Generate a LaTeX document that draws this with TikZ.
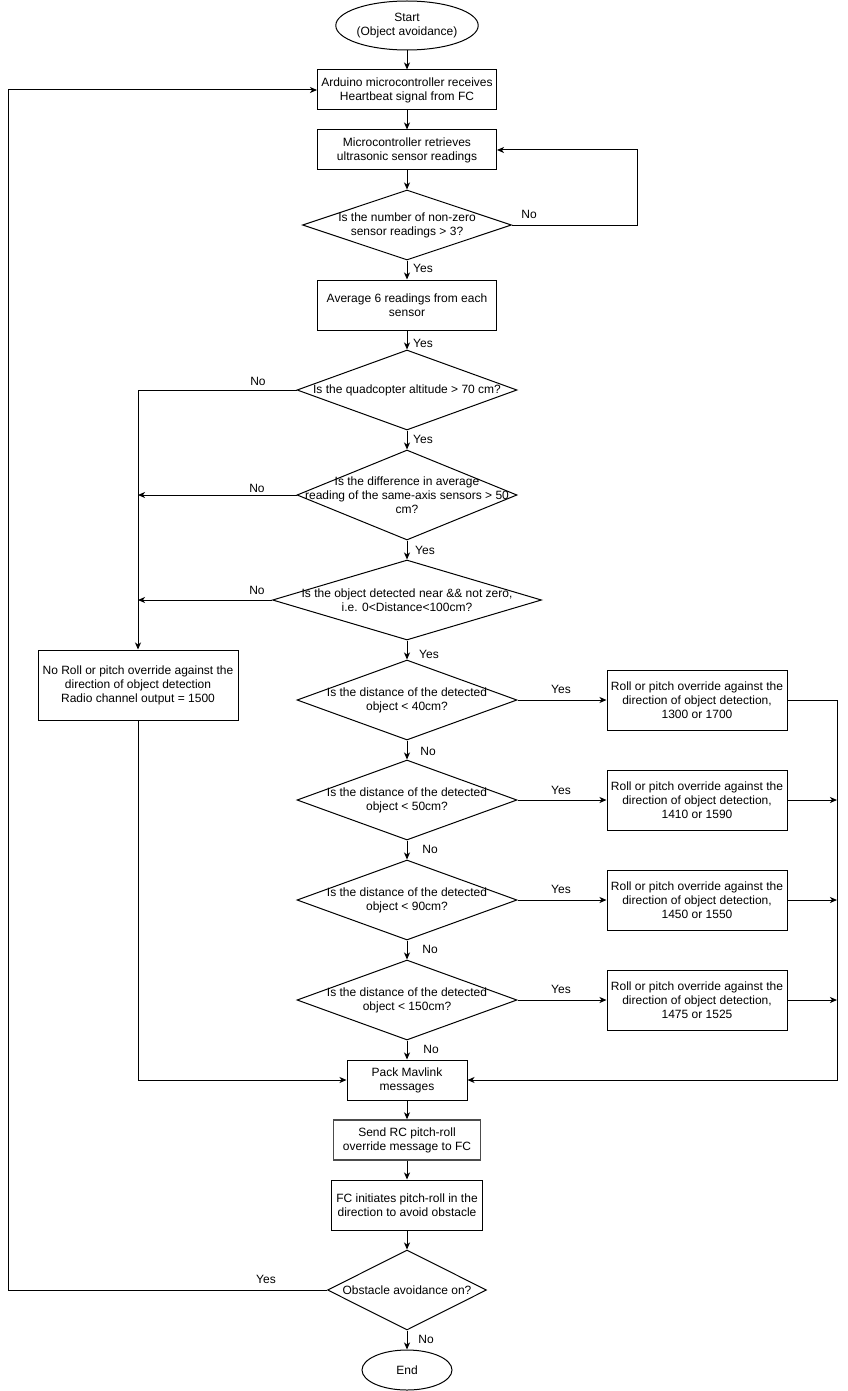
\documentclass[tikz,border=0pt]{standalone}
\usepackage{fontspec}
\setmainfont{Liberation Sans}
\usetikzlibrary{shapes.geometric,arrows.meta}
\begin{document}
\begin{tikzpicture}[x=1pt,y=-1pt,
  every node/.style={font=\fontsize{12}{14}\selectfont, align=center, inner sep=0pt},
  proc/.style={draw, line width=1pt, rectangle, minimum width=#1},
  term/.style={draw, line width=1pt, ellipse, minimum width=#1},
  decision/.style={draw, line width=1pt, diamond, minimum width=#1},
  arr/.style={line width=1pt, -{Stealth[length=7pt,width=6pt,inset=2pt]}},
  lbl/.style={font=\fontsize{12}{14}\selectfont}
]
\useasboundingbox (0,0) rectangle (847,1391);
% terminals and processes
\node[term=119, minimum height=49] (start) at (407,25.5) {Start\\(Object avoidance)};
\node[proc=179, minimum height=40] (b1) at (407,90) {Arduino microcontroller receives\\Heartbeat signal from FC};
\node[proc=179, minimum height=40] (b2) at (407,150) {Microcontroller retrieves\\ultrasonic sensor readings};
\node[decision=209, minimum height=70] (d1) at (407,225) {};
\node (t1) at (d1) {Is the number of non-zero\\sensor readings > 3?};
\node[proc=179, minimum height=50] (b3) at (407,305) {Average 6 readings from each\\sensor};
\node[decision=220, minimum height=80] (d2) at (407,390) {};
\node (t2) at (d2) {Is the quadcopter altitude > 70 cm?};
\node[decision=220, minimum height=90] (d3) at (407,495) {};
\node (t3) at (d3) {Is the difference in average\\reading of the same-axis sensors > 50\\cm?};
\node[decision=269, minimum height=80] (d4) at (407,600) {};
\node (t4) at (d4) {Is the object detected near \&\& not zero,\\i.e. 0<Distance<100cm?};
\node[proc=200, minimum height=70] (lb) at (138,685) {No Roll or pitch override against the\\direction of object detection\\Radio channel output = 1500};
\node[decision=220, minimum height=80] (d5) at (407,700) {};
\node (t5) at (d5) {Is the distance of the detected\\object < 40cm?};
\node[decision=220, minimum height=80] (d6) at (407,800) {};
\node (t6) at (d6) {Is the distance of the detected\\object < 50cm?};
\node[decision=220, minimum height=80] (d7) at (407,900) {};
\node (t7) at (d7) {Is the distance of the detected\\object < 90cm?};
\node[decision=220, minimum height=80] (d8) at (407,1000) {};
\node (t8) at (d8) {Is the distance of the detected\\object < 150cm?};
\node[proc=180, minimum height=60] (r1) at (697,700) {Roll or pitch override against the\\direction of object detection,\\1300 or 1700};
\node[proc=180, minimum height=60] (r2) at (697,800) {Roll or pitch override against the\\direction of object detection,\\1410 or 1590};
\node[proc=180, minimum height=60] (r3) at (697,900) {Roll or pitch override against the\\direction of object detection,\\1450 or 1550};
\node[proc=180, minimum height=60] (r4) at (697,1000) {Roll or pitch override against the\\direction of object detection,\\1475 or 1525};
\node[proc=120, minimum height=40] (pack) at (407,1080) {Pack Mavlink\\messages};
\node[proc=147, minimum height=40, draw=black!70, line width=1.4pt] (send) at (407,1140) {Send RC pitch-roll\\override message to FC};
\node[proc=151, minimum height=50] (fci) at (407,1205) {FC initiates pitch-roll in the\\direction to avoid obstacle};
\node[decision=159, minimum height=80] (d9) at (407,1290) {};
\node (t9) at (d9) {Obstacle avoidance on?};
\node[term=90, minimum height=40] (endn) at (407,1370) {End};
% helper coordinates
\coordinate (c1) at (637,225);
\coordinate (rr) at (837,1080);
\coordinate (c9) at (8,1290);
% connectors main column
\draw[arr] (start) -- (b1);
\draw[arr] (b1) -- (b2);
\draw[arr] (b2) -- (d1);
\draw[arr] (d1.south) -- (b3);
\draw[arr] (b3) -- (d2.north);
\draw[arr] (d2.south) -- (d3.north);
\draw[arr] (d3.south) -- (d4.north);
\draw[arr] (d4.south) -- (d5.north);
\draw[arr] (d5.south) -- (d6.north);
\draw[arr] (d6.south) -- (d7.north);
\draw[arr] (d7.south) -- (d8.north);
\draw[arr] (d8.south) -- (pack);
\draw[arr] (pack) -- (send);
\draw[arr] (send) -- (fci);
\draw[arr] (fci) -- (d9.north);
\draw[arr] (d9.south) -- (endn);
% loops
\draw[arr] (d1.east) -- (c1) |- (b2.east);
\draw[arr] (d9.west) -- (c9) |- (b1.west);
% left branch
\draw[arr] (d2.west) -| (lb.north);
\draw[arr] (d3.west) -- (d3.west -| lb.north);
\draw[arr] (d4.west) -- (d4.west -| lb.north);
\draw[arr] (lb.south) |- (pack.west);
% right branch
\draw[arr] (d5.east) -- (r1.west);
\draw[arr] (d6.east) -- (r2.west);
\draw[arr] (d7.east) -- (r3.west);
\draw[arr] (d8.east) -- (r4.west);
\draw[arr] (r1.east) -| (rr) -- (pack.east);
\draw[arr] (r2.east) -- (r2.east -| rr);
\draw[arr] (r3.east) -- (r3.east -| rr);
\draw[arr] (r4.east) -- (r4.east -| rr);
% labels
\node[lbl] (l1) at (529,214) {No};
\node[lbl] (l2) at (423,268) {Yes};
\node[lbl] (l3) at (423,343) {Yes};
\node[lbl] (l4) at (258,381) {No};
\node[lbl] (l5) at (423,439) {Yes};
\node[lbl] (l6) at (257,488) {No};
\node[lbl] (l7) at (425,550) {Yes};
\node[lbl] (l8) at (257,590) {No};
\node[lbl] (l9) at (429,654) {Yes};
\node[lbl] (l10) at (561,689) {Yes};
\node[lbl] (l11) at (428,751) {No};
\node[lbl] (l12) at (561,790) {Yes};
\node[lbl] (l13) at (430,849) {No};
\node[lbl] (l14) at (561,889) {Yes};
\node[lbl] (l15) at (430,949) {No};
\node[lbl] (l16) at (561,989) {Yes};
\node[lbl] (l17) at (431,1049) {No};
\node[lbl] (l18) at (266,1279) {Yes};
\node[lbl] (l19) at (426,1339) {No};
\end{tikzpicture}
\end{document}
